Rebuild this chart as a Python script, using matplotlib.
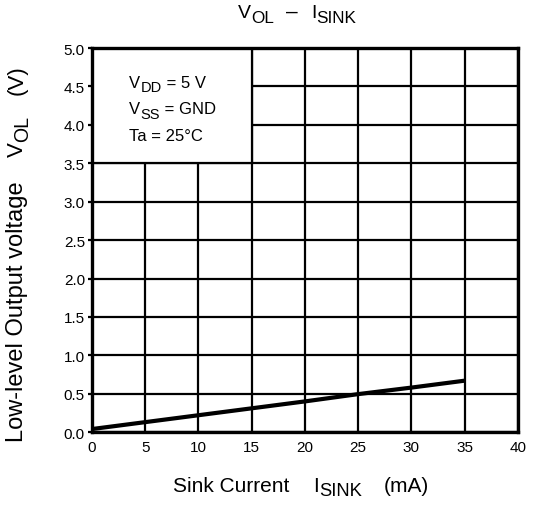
import matplotlib
matplotlib.use('Agg')
import matplotlib.pyplot as plt
from matplotlib.patches import Rectangle

plt.rcParams['font.family'] = ['Liberation Sans', 'DejaVu Sans']

# sink current (mA) vs low-level output voltage (V)
sink_current = [0, 5, 10, 15, 20, 25, 30, 35]
vol = [0.04, 0.13, 0.22, 0.31, 0.40, 0.495, 0.58, 0.67]

x_ticks = [0, 5, 10, 15, 20, 25, 30, 35, 40]
y_ticks = [0.0, 0.5, 1.0, 1.5, 2.0, 2.5, 3.0, 3.5, 4.0, 4.5, 5.0]

SUB_SCALE = 0.88
SUB_SHIFT = 3.0  # points

W, H = 534, 506


def chain_text(ax, x, y, parts, transform, fontsize, rotation=0):
    """Write text pieces one after another; parts = (text, is_subscript)."""
    s0 = parts[0][0]
    if rotation == 0:
        first = ax.text(x, y, s0, transform=transform, fontsize=fontsize,
                        ha='left', va='baseline', zorder=5, clip_on=False)
    else:
        first = ax.text(x, y, s0, transform=transform, fontsize=fontsize,
                        ha='right', va='bottom', rotation=90, zorder=5, clip_on=False)
    prev = first
    for s, sub in parts[1:]:
        fs = fontsize * SUB_SCALE if sub else fontsize
        shift = SUB_SHIFT if sub else 0
        if rotation == 0:
            t = ax.annotate(s, xy=(1, 0), xycoords=(prev, first), xytext=(0, -shift),
                            textcoords='offset points', fontsize=fs, ha='left', va='bottom',
                            annotation_clip=False, zorder=5)
        else:
            t = ax.annotate(s, xy=(1, 1), xycoords=(first, prev), xytext=(shift, 0),
                            textcoords='offset points', fontsize=fs, ha='right', va='bottom',
                            rotation=90, annotation_clip=False, zorder=5)
        prev = t
    return first


fig = plt.figure(figsize=(W / 100, H / 100), dpi=100)
ax = fig.add_axes([0.172, 0.144, 0.798, 0.759])

ax.set_xlim(0, 40)
ax.set_ylim(0, 5)
ax.set_xticks(x_ticks)
ax.set_yticks(y_ticks)
ax.set_yticklabels([f'{v:.1f}' for v in y_ticks])
ax.tick_params(axis='x', length=0, pad=6, labelsize=11)
ax.tick_params(axis='y', length=3, width=1.6, pad=2, labelsize=11)
ax.grid(True, color='black', linewidth=1.6)
for s in ax.spines.values():
    s.set_linewidth(2.4)

# condition box hides the grid in the upper left corner
box = Rectangle((0, 3.5), 15, 1.5, facecolor='white', edgecolor='black',
                linewidth=1.6, zorder=2)
ax.add_patch(box)
chain_text(ax, 3.5, 4.49, [('V', False), ('DD', True), (' = 5 V', False)], ax.transData, 12)
chain_text(ax, 3.5, 4.15, [('V', False), ('SS', True), (' = GND', False)], ax.transData, 12)
chain_text(ax, 3.5, 3.80, [('Ta = 25°C', False)], ax.transData, 12)

ax.plot(sink_current, vol, color='black', linewidth=3, zorder=4, solid_capstyle='butt')

ft = fig.transFigure
# title
title_y = 1 - 18 / H
chain_text(ax, 238 / W, title_y, [('V', False), ('OL', True)], ft, 14)
chain_text(ax, 286 / W, title_y, [('–', False)], ft, 15)
chain_text(ax, 311 / W, title_y, [('I', False), ('SINK', True)], ft, 14)

# x label
xl_y = 1 - 492 / H
chain_text(ax, 173 / W, xl_y, [('Sink Current', False)], ft, 15)
chain_text(ax, 313 / W, xl_y, [('I', False), ('SINK', True)], ft, 15)
chain_text(ax, 384 / W, xl_y, [('(mA)', False)], ft, 15)

# y label
yl_x = 28 / W
chain_text(ax, yl_x, 1 - 442 / H, [('Low-level Output voltage', False)], ft, 17, rotation=90)
chain_text(ax, yl_x, 1 - 157 / H, [('V', False), ('OL', True)], ft, 16, rotation=90)
chain_text(ax, yl_x, 1 - 95 / H, [('(V)', False)], ft, 16, rotation=90)

fig.savefig('out.png', dpi=100)
